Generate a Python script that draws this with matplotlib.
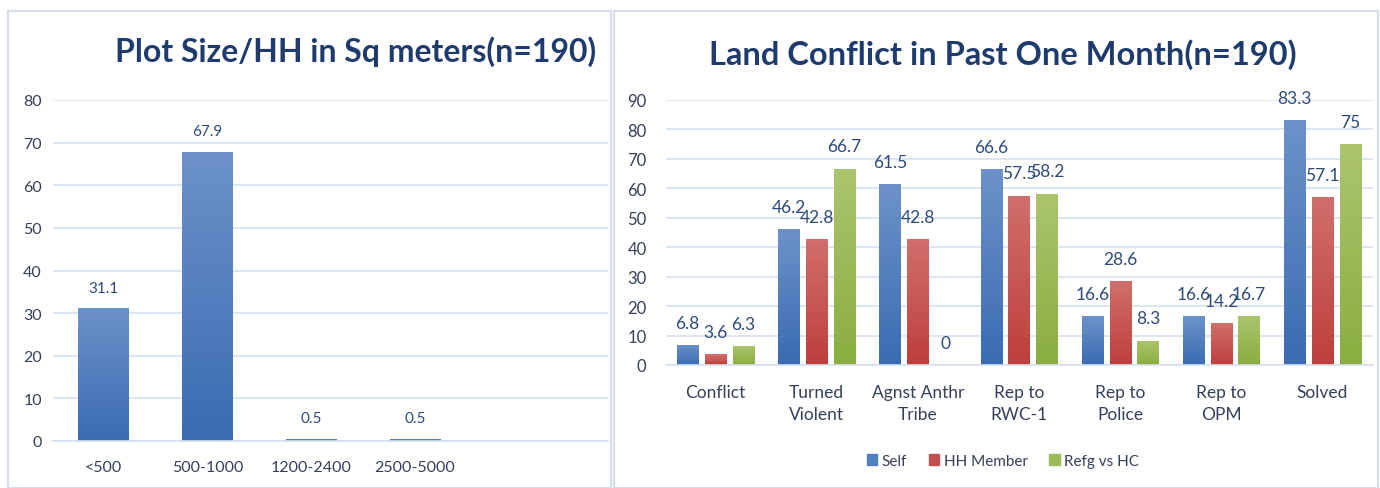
import matplotlib.pyplot as plt
import numpy as np
from matplotlib.colors import LinearSegmentedColormap
from matplotlib.patches import Rectangle

plt.rcParams['font.family'] = ['Lato', 'DejaVu Sans']

# left chart data
plot_sizes = ['<500', '500-1000', '1200-2400', '2500-5000']
plot_pct = [31.1, 67.9, 0.5, 0.5]

# right chart data
conflict_cats = ['Conflict', 'Turned\nViolent', 'Agnst Anthr\nTribe', 'Rep to\nRWC-1',
                 'Rep to\nPolice', 'Rep to\nOPM', 'Solved']
self_vals = [6.8, 46.2, 61.5, 66.6, 16.6, 16.6, 83.3]
hh_vals = [3.6, 42.8, 42.8, 57.5, 28.6, 14.2, 57.1]
refg_vals = [6.3, 66.7, 0, 58.2, 8.3, 16.7, 75]
series_names = ['Self', 'HH Member', 'Refg vs HC']

navy = '#1F3B6E'
label_col = '#2E4A7A'
tick_col = '#34405A'
grid_col = '#D6E0F0'

grad = {
    'blue': ('#3A6CB2', '#6D92C9'),
    'red': ('#BE3F3C', '#D06F6C'),
    'green': ('#8AAE3F', '#ABC56F'),
}
solid = {'blue': '#4F81BD', 'red': '#C0504D', 'green': '#9BBB59'}


def gradient_bars(ax, bars, key):
    cmap = LinearSegmentedColormap.from_list(key, grad[key])
    img = np.linspace(0, 1, 100).reshape(-1, 1)
    for b in bars:
        x, y = b.get_x(), b.get_y()
        w, h = b.get_width(), b.get_height()
        if h <= 0:
            continue
        b.set_facecolor('none')
        b.set_edgecolor('none')
        im = ax.imshow(img, cmap=cmap, extent=[x, x + w, y, y + h], origin='lower',
                       aspect='auto', zorder=2)
        im.set_clip_path(b)


def style_axis(ax, ymax, step, ypad, xsize, ysize):
    ax.set_ylim(0, ymax)
    ax.set_yticks(np.arange(0, ymax + 1, step))
    ax.grid(axis='y', color=grid_col, linewidth=1.2)
    ax.set_axisbelow(True)
    for s in ['top', 'right', 'left']:
        ax.spines[s].set_visible(False)
    ax.spines['bottom'].set_color(grid_col)
    ax.spines['bottom'].set_linewidth(1.2)
    ax.tick_params(axis='both', length=0, colors=tick_col)
    ax.tick_params(axis='x', pad=14, labelsize=xsize)
    ax.tick_params(axis='y', pad=ypad, labelsize=ysize)


fig = plt.figure(figsize=(13.8, 4.89), dpi=100)

# panel borders
fig.patches.append(Rectangle((8 / 1380, 0), 603 / 1380, 1 - 12 / 489, transform=fig.transFigure,
                             fill=False, edgecolor='#D3DEEF', linewidth=1.5))
fig.patches.append(Rectangle((614 / 1380, 0), 764 / 1380, 1 - 12 / 489, transform=fig.transFigure,
                             fill=False, edgecolor='#D3DEEF', linewidth=1.5))

# left chart
ax1 = fig.add_axes([53 / 1380, 1 - 442 / 489, 555 / 1380, 341 / 489])
x1 = np.arange(len(plot_sizes))
bars1 = ax1.bar(x1, plot_pct, width=0.49)
gradient_bars(ax1, bars1, 'blue')
for xi, v in zip(x1, plot_pct):
    ax1.annotate(f'{v}', (xi, v), xytext=(0, 15), textcoords='offset points',
                 ha='center', va='center', fontsize=11, color=label_col)
ax1.set_xticks(x1)
ax1.set_xticklabels(plot_sizes)
ax1.set_xlim(-0.49, 4.86)
style_axis(ax1, 80, 10, 8, 11.5, 11.5)
fig.text(356 / 1380, 1 - 52 / 489, 'Plot Size/HH in Sq meters(n=190)', ha='center', va='center',
         fontsize=23, fontweight='bold', color=navy)

# right chart
ax2 = fig.add_axes([666 / 1380, 1 - 366 / 489, 707 / 1380, 265 / 489])
x2 = np.arange(len(conflict_cats))
bw = 0.21
step = 0.275
for off, vals, key, name in zip([-step, 0, step], [self_vals, hh_vals, refg_vals],
                                ['blue', 'red', 'green'], series_names):
    bars = ax2.bar(x2 + off, vals, width=bw, color=solid[key], label=name)
    gradient_bars(ax2, bars, key)
    for xi, v in zip(x2 + off, vals):
        ax2.annotate(f'{v}', (xi, v), xytext=(0, 16), textcoords='offset points',
                     ha='center', va='center', fontsize=12.5, color=label_col)
ax2.set_xticks(x2)
ax2.set_xticklabels(conflict_cats, va='top', linespacing=1.45)
ax2.set_xlim(-0.49, 6.5)
style_axis(ax2, 90, 10, 14, 12.5, 12)
fig.text(1003 / 1380, 1 - 55 / 489, 'Land Conflict in Past One Month(n=190)', ha='center',
         va='center', fontsize=23.5, fontweight='bold', color=navy)

handles = [Rectangle((0, 0), 1, 1, color=solid[k]) for k in ['blue', 'red', 'green']]
fig.legend(handles, series_names, loc='center', bbox_to_anchor=(1003 / 1380, 1 - 462 / 489),
           ncol=3, frameon=False, fontsize=11, handlelength=0.7, handleheight=0.7,
           handletextpad=0.3, columnspacing=1.4, labelcolor=tick_col)

fig.savefig('out.png', dpi=100)
